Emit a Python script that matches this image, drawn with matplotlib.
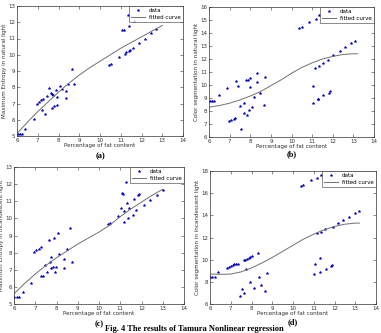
import matplotlib
matplotlib.use("Agg")
import matplotlib.pyplot as plt

W, H = 381, 333

# (a) Maximum Entropy, natural light
a_x = [6.05, 6.15, 6.25, 6.4, 6.83, 6.94, 7.05, 7.17, 7.26, 7.2, 7.33, 7.45, 7.54, 7.65, 7.67,
       7.75, 7.7, 7.78, 7.86, 7.94, 7.94, 8.07, 8.18, 8.35, 8.35, 8.46, 8.64, 8.73, 10.45, 10.53,
       10.93, 11.06, 11.15, 11.22, 11.26, 11.34, 11.39, 11.42, 11.45, 11.58, 11.66, 11.9, 12.18,
       12.47, 12.72]
a_y = [5.15, 5.15, 5.15, 5.45, 6.07, 7.0, 7.1, 7.2, 7.26, 6.6, 6.35, 7.45, 7.97, 7.67, 7.56,
       7.52, 6.75, 6.83, 7.85, 7.43, 6.93, 8.1, 7.9, 7.8, 7.33, 8.2, 9.12, 8.2, 9.35, 9.45,
       9.85, 11.5, 11.5, 10.05, 10.15, 12.45, 11.8, 10.25, 10.3, 10.4, 12.1, 10.75, 11.0,
       11.35, 11.6]
a_fx = [6, 6.5, 7, 7.5, 8, 8.5, 9, 9.5, 10, 10.5, 11, 11.5, 12, 12.5, 13]
a_fy = [5.15, 5.85, 6.5, 7.1, 7.7, 8.25, 8.75, 9.2, 9.6, 10.0, 10.4, 10.75, 11.1, 11.45, 11.8]

# (b) Color segmentation, natural light
b_x = [6.03, 6.15, 6.26, 6.47, 6.87, 6.98, 7.08, 7.19, 7.27, 7.3, 7.39, 7.48, 7.56, 7.68, 7.71,
       7.81, 7.84, 7.89, 7.92, 8.0, 7.97, 8.08, 8.16, 8.32, 8.32, 8.45, 8.65, 8.73, 10.37, 10.5,
       10.85, 11.02, 11.06, 11.15, 11.19, 11.27, 11.3, 11.34, 11.35, 11.55, 11.55, 11.8, 11.87,
       11.79, 12.03, 12.35, 12.6, 12.87, 13.08]
b_y = [8.8, 8.8, 8.8, 9.25, 9.75, 7.2, 7.3, 7.38, 7.48, 10.3, 9.95, 8.4, 6.64, 8.6, 7.88,
       10.35, 7.67, 10.42, 8.05, 10.52, 9.85, 8.28, 9.1, 10.9, 10.25, 9.4, 8.44, 10.65, 14.4, 14.5,
       14.85, 8.6, 9.95, 11.3, 15.1, 8.95, 8.9, 15.35, 11.5, 11.7, 9.2, 9.4, 9.5,
       11.95, 12.3, 12.62, 12.9, 13.2, 13.4]
b_fx = [6, 6.5, 7, 7.5, 8, 8.5, 9, 9.5, 10, 10.5, 11, 11.5, 12, 12.5, 13, 13.2]
b_fy = [8.3, 8.42, 8.6, 8.85, 9.15, 9.5, 9.95, 10.4, 10.9, 11.35, 11.7, 12.0, 12.2, 12.35, 12.4, 12.4]

# (c) Maximum Entropy, incandescent light
c_x = [6.0, 6.12, 6.23, 6.43, 6.82, 6.95, 7.05, 7.16, 7.26, 7.26, 7.37, 7.44, 7.55, 7.63, 7.68,
       7.72, 7.75, 7.83, 7.86, 7.91, 7.98, 8.06, 8.14, 8.34, 8.34, 8.48, 8.64, 8.73, 10.42, 10.51,
       10.88, 11.04, 11.09, 11.12, 11.16, 11.19, 11.29, 11.32, 11.36, 11.4, 11.58, 11.63, 11.75,
       11.82, 11.86, 12.12, 12.4, 12.71, 12.99]
c_y = [5.42, 5.42, 5.42, 5.7, 6.24, 8.05, 8.15, 8.24, 8.3, 6.63, 6.63, 7.3, 6.88, 8.73, 7.47,
       7.08, 7.72, 7.17, 8.88, 6.84, 7.17, 9.16, 7.9, 7.62, 7.1, 8.2, 9.45, 7.45, 9.65, 9.75,
       10.12, 10.6, 11.5, 11.4, 9.78, 10.43, 12.1, 10.9, 10.0, 10.6, 10.2, 11.15, 10.5,
       11.38, 11.45, 10.77, 11.06, 11.39, 11.64]
c_fx = [6, 6.5, 7, 7.5, 8, 8.5, 9, 9.5, 10, 10.5, 11, 11.5, 12, 12.5, 13]
c_fy = [5.6, 6.2, 6.75, 7.25, 7.7, 8.1, 8.5, 8.85, 9.2, 9.6, 10.1, 10.55, 10.95, 11.35, 11.7]

# (d) Color segmentation, incandescent light
d_x = [6.0, 6.1, 6.22, 6.4, 6.8, 6.93, 7.02, 7.1, 7.18, 7.26, 7.34, 7.45, 7.53, 7.62, 7.63,
       7.7, 7.75, 7.8, 7.86, 7.94, 8.03, 7.93, 8.13, 8.32, 8.34, 8.44, 8.65, 8.74, 10.38, 10.48,
       10.86, 11.15, 11.36, 11.02, 11.07, 11.28, 11.31, 11.15, 11.34, 11.55, 11.6, 11.83, 11.9,
       11.95, 12.16, 12.43, 12.72, 12.99, 13.2]
d_y = [8.46, 8.46, 8.46, 8.88, 9.27, 9.36, 9.45, 9.54, 9.63, 9.6, 9.57, 6.75, 7.35, 7.0, 10.0,
       9.96, 9.12, 10.1, 10.17, 10.23, 10.35, 8.0, 7.47, 10.62, 8.43, 7.71, 7.2, 8.8, 16.66, 16.78,
       17.17, 17.4, 17.6, 8.67, 9.6, 10.17, 8.9, 12.37, 12.5, 12.73, 9.2, 9.45, 9.5,
       12.97, 13.27, 13.57, 13.87, 14.17, 14.38]
d_fx = [6, 6.5, 7, 7.5, 8, 8.5, 9, 9.5, 10, 10.5, 11, 11.5, 12, 12.5, 13, 13.2]
d_fy = [8.7, 8.68, 8.7, 8.9, 9.25, 9.7, 10.2, 10.75, 11.3, 11.85, 12.3, 12.7, 13.0, 13.2, 13.3, 13.3]

panels = [
    # data x, data y, curve x, curve y, ylabel, yticks, box (l, r, top, bottom) in px, tag, tag y
    (a_x, a_y, a_fx, a_fy, "Maximum Entropy in natural light", range(5, 14), (17, 183, 6, 136), "(a)", 156),
    (b_x, b_y, b_fx, b_fy, "Color segmentation in natural light", range(6, 17), (209, 374, 7, 137), "(b)", 154),
    (c_x, c_y, c_fx, c_fy, "Maximum Entropy in incandescent light", range(5, 14), (14, 184, 167, 304), "(c)", 324),
    (d_x, d_y, d_fx, d_fy, "Color segmentation in incandescent light", range(6, 19, 2), (210, 376, 171, 304), "(d)", 322),
]

fig = plt.figure(figsize=(W / 100, H / 100), dpi=100)

for px, py, fx, fy, ylab, yt, (l, r, t, b), tag, ty in panels:
    ax = fig.add_axes([l / W, 1 - b / H, (r - l) / W, (b - t) / H])
    ax.plot(px, py, "*", color="#0000c8", markersize=1.9, markeredgewidth=0.35, label="data")
    ax.plot(fx, fy, "-", color="#707070", linewidth=0.7, label="fitted curve")
    ax.set_xlim(6, 14)
    ax.set_ylim(yt[0], yt[-1])
    ax.set_xticks(range(6, 15))
    ax.set_yticks(list(yt))
    ax.tick_params(direction="in", top=True, right=True, length=2, width=0.4,
                   labelsize=4.0, pad=1.3, colors="#333333")
    for s in ax.spines.values():
        s.set_linewidth(0.5)
        s.set_color("#333333")
    ax.set_xlabel("Percentage of fat content", fontsize=4.1, labelpad=0.5, color="#333333")
    ax.set_ylabel(ylab, fontsize=4.1, labelpad=0.8, color="#333333")
    if tag == "(c)":
        # keep the label inside the page, as close to the edge as the original
        ax.yaxis.set_label_coords(-3.0 / (r - l) * 3.2, 0.5)
    leg = ax.legend(loc="upper right", fontsize=4.0, borderaxespad=0, handlelength=2.4,
                    fancybox=False, borderpad=0.4, labelspacing=0.3, handletextpad=0.8)
    leg.get_frame().set_edgecolor("#333333")
    leg.get_frame().set_linewidth(0.5)
    fig.text((l + r) / 2 / W, 1 - ty / H, tag, ha="center", va="center",
             fontsize=6, fontweight="bold", family="Liberation Serif")

fig.text(105 / W, 1 - 329 / H, "Fig. 4 The results of Tamura Nonlinear regression",
         ha="left", va="center", fontsize=6.0, fontweight="bold", family="Liberation Serif")

fig.savefig("out.png", dpi=100)
